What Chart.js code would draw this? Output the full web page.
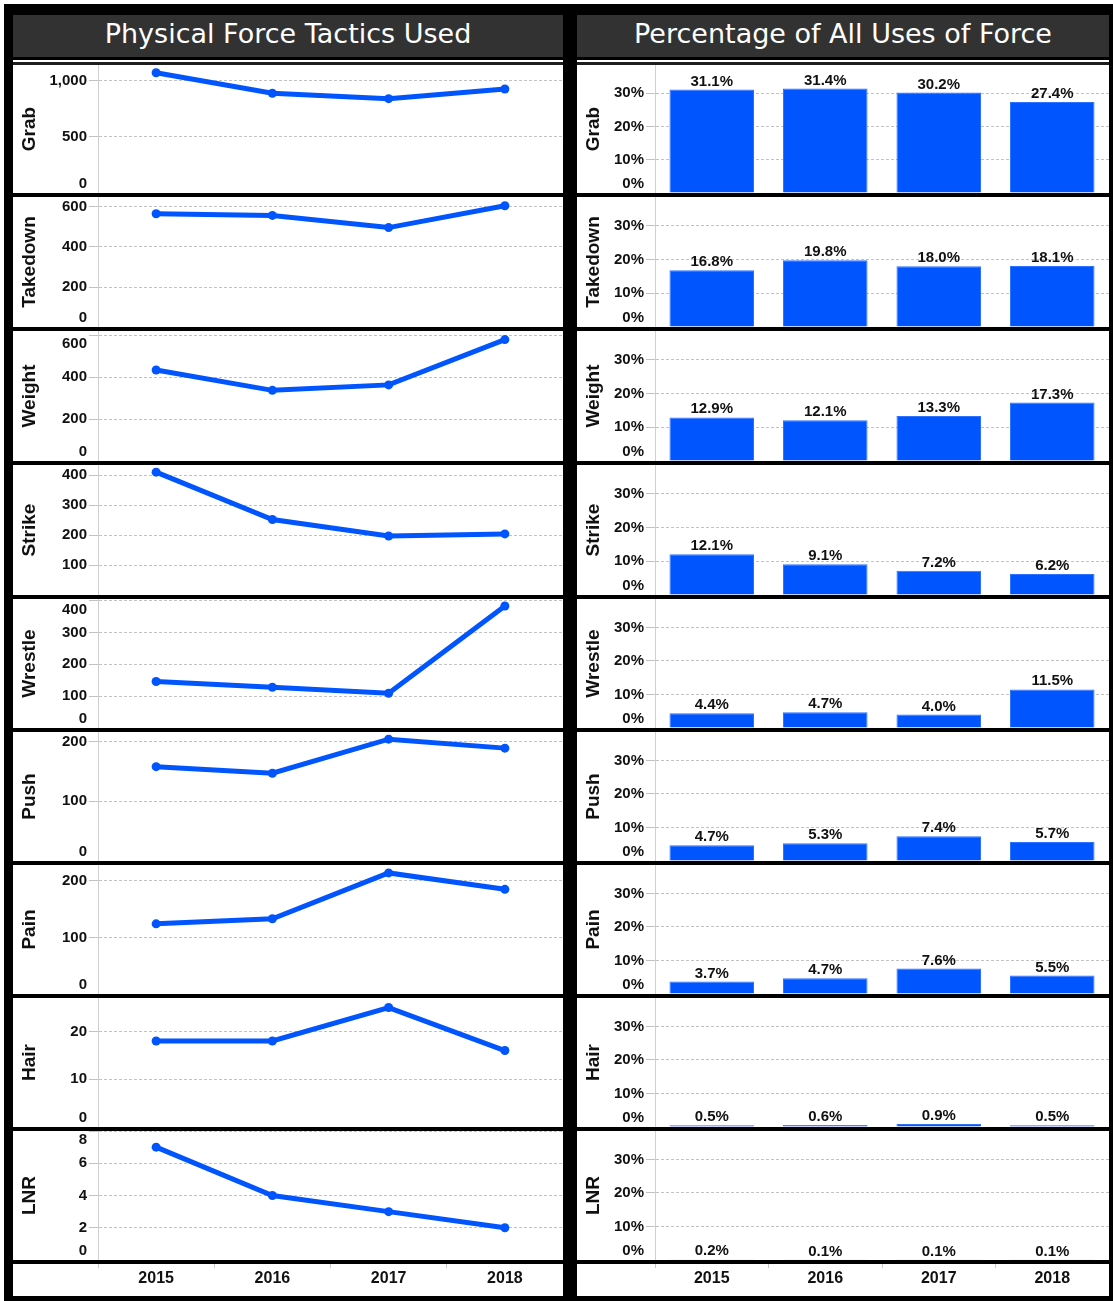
<!DOCTYPE html>
<html>
<head>
<meta charset="utf-8">
<title>Physical Force Tactics Used</title>
<script src="https://cdn.jsdelivr.net/npm/chart.js@4.4.1/dist/chart.umd.min.js"></script>
<style>
    html, body { margin: 0; padding: 0; background: #fff; }
    #frame { position: absolute; left: 4px; top: 4px; width: 1109px; height: 1297px; background: #000; }
    .head {
        position: absolute; top: 15px; height: 42px; background: #323232; color: #fff;
        font-family: "DejaVu Sans", sans-serif; font-size: 27px; line-height: 38px; text-align: center;
        white-space: nowrap;
    }
    .panel { position: absolute; top: 60px; height: 1236px; background: #fff; }
    .topline { margin-top: 2px; height: 3px; background: #1e1e1e; }
    .sep { height: 4px; background: #000; }
    canvas { display: block; }
</style>
</head>
<body>
<div id="frame"></div>
<div class="head" style="left:13px;width:550px;">Physical Force Tactics Used</div>
<div class="head" style="left:577px;width:532px;">Percentage of All Uses of Force</div>
<div class="panel" id="left" style="left:13px;width:550px;"><div class="topline"></div></div>
<div class="panel" id="right" style="left:577px;width:532px;"><div class="topline"></div></div>

<script>
// years on the x axis
const years = ['2015', '2016', '2017', '2018'];
const tactics = ['Grab', 'Takedown', 'Weight', 'Strike', 'Wrestle', 'Push', 'Pain', 'Hair', 'LNR'];

// counts per tactic (left column)
const grab = [1071, 888, 840, 926];
const takedown = [566, 558, 497, 606];
const weight = [434, 337, 363, 579];
const strike = [410, 252, 197, 204];
const wrestle = [146, 128, 109, 383];
const push = [158, 147, 204, 189];
const pain = [124, 133, 214, 185];
const hair = [18, 18, 25, 16];
const lnr = [7, 4, 3, 2];

// share of all uses of force, % (right column)
const grabPct = [31.1, 31.4, 30.2, 27.4];
const takedownPct = [16.8, 19.8, 18.0, 18.1];
const weightPct = [12.9, 12.1, 13.3, 17.3];
const strikePct = [12.1, 9.1, 7.2, 6.2];
const wrestlePct = [4.4, 4.7, 4.0, 11.5];
const pushPct = [4.7, 5.3, 7.4, 5.7];
const painPct = [3.7, 4.7, 7.6, 5.5];
const hairPct = [0.5, 0.6, 0.9, 0.5];
const lnrPct = [0.2, 0.1, 0.1, 0.1];

// y axis range and tick values for the count charts
const countMax = [1140, 650, 620, 434, 405, 216, 228, 27, 8];
const grabTicks = [0, 500, 1000];
const takedownTicks = [0, 200, 400, 600];
const weightTicks = [0, 200, 400, 600];
const strikeTicks = [100, 200, 300, 400];
const wrestleTicks = [0, 100, 200, 300, 400];
const pushTicks = [0, 100, 200];
const painTicks = [0, 100, 200];
const hairTicks = [0, 10, 20];
const lnrTicks = [0, 2, 4, 6, 8];

// y axis for the percentage charts
const pctMax = 38.5;
const pctTicks = [0, 10, 20, 30];

const counts = [grab, takedown, weight, strike, wrestle, push, pain, hair, lnr];
const countTicks = [grabTicks, takedownTicks, weightTicks, strikeTicks, wrestleTicks,
    pushTicks, painTicks, hairTicks, lnrTicks];
const pcts = [grabPct, takedownPct, weightPct, strikePct, wrestlePct, pushPct, painPct, hairPct, lnrPct];

const rowHeights = [128, 130, 130, 130, 129, 129, 129, 129, 129];
const AXIS_H = 36;
const BLUE = '#0055ff';

Chart.defaults.font.family = '"Liberation Sans", Arial, sans-serif';
Chart.defaults.color = '#111';

// percent labels above the bars
const valueLabels = {
    id: 'valueLabels',
    afterDatasetsDraw(chart) {
        const ctx = chart.ctx;
        const values = chart.data.datasets[0].data;
        ctx.save();
        ctx.font = 'bold 15px "Liberation Sans", Arial, sans-serif';
        ctx.fillStyle = '#111';
        ctx.textAlign = 'center';
        ctx.textBaseline = 'alphabetic';
        chart.getDatasetMeta(0).data.forEach((bar, j) => {
            ctx.fillText(values[j].toFixed(1) + '%', bar.x, bar.y - 4);
        });
        ctx.restore();
    }
};

// black rule between the last row and the year labels
const axisRule = {
    id: 'axisRule',
    afterDraw(chart) {
        const { ctx, chartArea, width } = chart;
        ctx.save();
        ctx.fillStyle = '#000';
        ctx.fillRect(0, chartArea.bottom, width, 4);
        ctx.restore();
    }
};

// keep edge labels inside the row: 0 moves up, a tick at the top moves down
function tickText(scale, value, text) {
    if (value === 0) return [text, ''];
    if ((scale.max - value) / (scale.max - scale.min) < 0.06) return ['', text];
    return text;
}

function noPadding(s) {
    s.paddingTop = 0;
    s.paddingBottom = 0;
    s.paddingLeft = 0;
    s.paddingRight = 0;
}

function makeOptions(title, max, tickValues, axisWidth, isLast, fmt) {
    return {
        responsive: false,
        animation: false,
        layout: { autoPadding: false, padding: 0 },
        plugins: { legend: { display: false }, tooltip: { enabled: false } },
        scales: {
            x: {
                offset: true,
                display: isLast,
                grid: { offset: true, drawOnChartArea: false, drawTicks: true, tickLength: 8, color: '#c8c8c8' },
                border: { display: false },
                ticks: { font: { size: 16, weight: 'bold' }, color: '#111', padding: 1 },
                afterFit(s) {
                    noPadding(s);
                    s.height = isLast ? AXIS_H : 0;
                }
            },
            y: {
                min: 0,
                max: max,
                afterBuildTicks(s) { s.ticks = tickValues.map(v => ({ value: v })); },
                ticks: {
                    autoSkip: false,
                    font: { size: 15, weight: 'bold' },
                    color: '#111',
                    padding: 2,
                    callback: function (value) { return tickText(this, value, fmt(value)); }
                },
                grid: { color: '#c2c2c2', lineWidth: 1, tickLength: 9 },
                border: { display: true, color: '#d0d0d0', width: 1, dash: [3, 2] },
                title: {
                    display: true, text: title, color: '#111',
                    font: { size: 19, weight: 'bold' }, padding: { top: 5, bottom: 0 }
                },
                afterFit(s) {
                    noPadding(s);
                    s.width = axisWidth;
                }
            }
        }
    };
}

function addCanvas(panel, w, h) {
    const c = document.createElement('canvas');
    c.width = w;
    c.height = h;
    c.style.width = w + 'px';
    c.style.height = h + 'px';
    panel.appendChild(c);
    return c;
}

const leftPanel = document.getElementById('left');
const rightPanel = document.getElementById('right');

tactics.forEach((name, i) => {
    const isLast = i === tactics.length - 1;
    const h = rowHeights[i] + (isLast ? AXIS_H : 0);

    // count line chart
    const lc = addCanvas(leftPanel, 550, h);
    new Chart(lc, {
        type: 'line',
        data: {
            labels: years,
            datasets: [{
                data: counts[i],
                borderColor: BLUE,
                backgroundColor: BLUE,
                borderWidth: 5,
                pointRadius: 4.5,
                pointBorderWidth: 0,
                pointBackgroundColor: BLUE,
                tension: 0,
                clip: false
            }]
        },
        options: makeOptions(name, countMax[i], countTicks[i], 85, isLast, v => v.toLocaleString('en-US')),
        plugins: isLast ? [axisRule] : []
    });

    // percentage bar chart
    const rc = addCanvas(rightPanel, 532, h);
    new Chart(rc, {
        type: 'bar',
        data: {
            labels: years,
            datasets: [{
                data: pcts[i],
                backgroundColor: BLUE,
                borderColor: '#2f72ff',
                borderWidth: 1,
                barPercentage: 0.745,
                categoryPercentage: 1
            }]
        },
        options: makeOptions(name, pctMax, pctTicks, 78, isLast, v => v + '%'),
        plugins: isLast ? [valueLabels, axisRule] : [valueLabels]
    });

    if (!isLast) {
        const s1 = document.createElement('div'); s1.className = 'sep'; leftPanel.appendChild(s1);
        const s2 = document.createElement('div'); s2.className = 'sep'; rightPanel.appendChild(s2);
    }
});
</script>
</body>
</html>
